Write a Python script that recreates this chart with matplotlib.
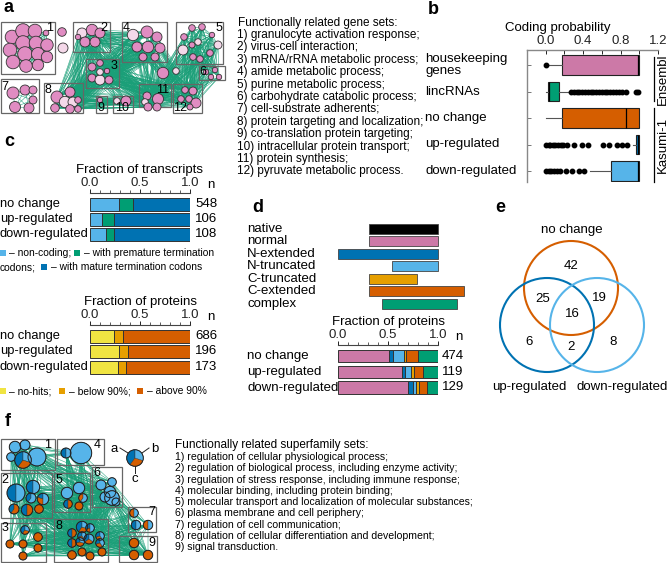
import matplotlib
matplotlib.use("Agg")
import matplotlib.pyplot as plt
import numpy as np
from matplotlib.patches import Rectangle, Circle, Wedge
from matplotlib.collections import LineCollection

plt.rcParams['font.family'] = ['Liberation Sans', 'DejaVu Sans']

W, H = 668, 563
PINK = '#CC79A7'
GREEN = '#009E73'
ORANGE = '#D55E00'
DBLUE = '#0072B2'
LBLUE = '#56B4E9'
YELLOW = '#F0E442'
AMBER = '#E69F00'
EDGE_GREEN = '#1A9F78'

# ---------------- data ----------------
# panel a: gene-set network (cluster, x, y, radius, pale)
a_nodes = [
    (1, 12, 37, 6.8, 0), (1, 23, 31, 7.3, 0), (1, 35, 31, 6.8, 0), (1, 10, 50, 6.8, 0),
    (1, 23, 43, 7.3, 0), (1, 36, 43, 6.8, 0), (1, 47, 45, 6.2, 0), (1, 13, 62, 6.8, 0),
    (1, 25, 54, 7.3, 0), (1, 38, 54, 6.5, 0), (1, 47, 57, 5.7, 0), (1, 26, 66, 6.3, 0),
    (1, 38, 65, 5.7, 0), (1, 46, 33, 2.8, 0),
    (0, 62, 32, 4.3, 0), (0, 63, 48, 5, 1),
    (2, 82, 33, 5, 1), (2, 92, 30, 5.7, 0), (2, 100, 33, 5, 0), (2, 85, 42, 5, 0),
    (2, 95, 42, 5, 0), (2, 78, 37, 2.7, 0),
    (3, 92, 67, 4, 0), (3, 100, 63, 3.3, 0), (3, 107, 71, 2.7, 0), (3, 92, 78, 4, 0),
    (3, 100, 80, 5, 1), (3, 109, 80, 4, 0), (3, 100, 72, 3.3, 1),
    (4, 133, 35, 5.7, 1), (4, 147, 32, 6, 0), (4, 157, 37, 5, 0), (4, 137, 47, 5, 0),
    (4, 148, 47, 5.7, 0), (4, 160, 48, 5, 0), (4, 143, 57, 4, 0), (4, 155, 57, 4, 0),
    (5, 192, 28, 3.3, 0), (5, 202, 27, 3.3, 0), (5, 212, 35, 2.7, 0), (5, 184, 37, 3.3, 0),
    (5, 198, 42, 3.3, 1), (5, 218, 45, 4, 1), (5, 183, 50, 5, 1), (5, 193, 57, 3.3, 0),
    (5, 200, 59, 3.3, 0), (5, 210, 53, 3.3, 0), (5, 192, 45, 3, 0),
    (6, 206, 72, 2.7, 0), (6, 215, 70, 2.7, 0), (6, 211, 77, 2.7, 0), (6, 219, 77, 2.7, 0),
    (0, 163, 73, 5.7, 0), (0, 176, 71, 3.3, 1),
    (7, 13, 93, 6, 0), (7, 25, 90, 5, 0), (7, 33, 100, 4, 0), (7, 15, 107, 5.5, 0),
    (7, 29, 108, 5, 0), (7, 33, 90, 4, 0),
    (8, 57, 97, 6, 0), (8, 70, 92, 5, 0), (8, 65, 102, 5.7, 1), (8, 73, 102, 5, 1),
    (8, 55, 108, 4.3, 0), (8, 70, 109, 4.3, 0), (8, 78, 109, 3.3, 0), (8, 78, 100, 3.3, 0),
    (9, 100, 100, 2.7, 0),
    (10, 117, 101, 3.3, 1), (10, 126, 101, 5, 0),
    (11, 147, 96, 4, 0), (11, 158, 99, 5.5, 0), (11, 145, 102, 3.3, 1), (11, 157, 107, 4, 0),
    (11, 148, 107, 4, 0),
    (12, 185, 90, 3.3, 0), (12, 193, 91, 4, 0), (12, 181, 99, 3.3, 0), (12, 189, 99, 3.3, 0),
    (12, 196, 103, 5, 0), (12, 190, 107, 3, 0),
]
a_boxes = [(1, 1, 22, 55, 74), (2, 73, 22, 110, 52), (3, 86, 59, 119, 88), (4, 122, 22, 167, 62),
           (5, 176, 22, 223, 64), (6, 199, 66, 225, 80), (7, 1, 79, 39, 113), (8, 44, 83, 83, 113),
           (9, 96, 96, 107, 113), (10, 113, 96, 133, 113), (11, 139, 84, 171, 107),
           (12, 173, 84, 202, 113)]
a_box_labels = [(1, 50, 28), (2, 104, 28), (3, 114, 66), (4, 126, 28), (5, 219, 28), (6, 203, 72),
                (7, 5, 87), (8, 48, 90), (9, 101, 108), (10, 122, 108), (11, 163, 90), (12, 180, 108)]
a_links = [(2, 3), (2, 4), (3, 4), (3, 8), (3, 11), (4, 11), (4, 12), (8, 11), (3, 12), (5, 12),
           (5, 6), (6, 12), (2, 8), (3, 10), (8, 10), (4, 8), (2, 11), (10, 11), (5, 5), (1, 1),
           (7, 7), (12, 12), (3, 3), (8, 8), (11, 12), (5, 11)]
gene_sets = ["granulocyte activation response;", "virus-cell interaction;",
             "mRNA/rRNA metabolic process;", "amide metabolic process;",
             "purine metabolic process;", "carbohydrate catabolic process;",
             "cell-substrate adherents;", "protein targeting and localization;",
             "co-translation protein targeting;", "intracellular protein transport;",
             "protein synthesis;", "pyruvate metabolic process."]

# panel b: coding probability box statistics
b_groups = ["housekeeping\ngenes", "lincRNAs", "no change", "up-regulated", "down-regulated"]
b_q1 = [0.17, 0.02, 0.17, 0.96, 0.70]
b_med = [0.985, 0.04, 0.86, 0.985, 0.985]
b_q3 = [1.0, 0.14, 1.0, 1.0, 1.0]
b_whislo = [0.0, 0.0, 0.0, 0.93, 0.47]
b_whishi = [1.0, 0.26, 1.0, 1.0, 1.0]
b_fliers = [
    [0.0],
    [0.27, 0.30, 0.33, 0.36, 0.39, 0.42, 0.45, 0.48, 0.51, 0.54, 0.57, 0.60, 0.63,
     0.66, 0.69, 0.72, 0.75, 0.78, 0.81, 0.86, 0.96, 0.99],
    [],
    [0.0, 0.03, 0.05, 0.08, 0.10, 0.13, 0.16, 0.19, 0.23, 0.30, 0.39, 0.45, 0.61,
     0.68, 0.76, 0.82, 0.87],
    [0.0, 0.03, 0.06, 0.09, 0.12, 0.15, 0.22, 0.28, 0.36, 0.41],
]
b_colors = [PINK, GREEN, ORANGE, DBLUE, LBLUE]

# panel c
groups3 = ["no change", "up-regulated", "down-regulated"]
tx_noncoding = np.array([0.293, 0.12, 0.16])
tx_premature = np.array([0.134, 0.123, 0.083])
tx_mature = np.array([0.573, 0.757, 0.757])
tx_n = [548, 106, 108]
pr_nohits = np.array([0.243, 0.293, 0.283])
pr_below90 = np.array([0.09, 0.09, 0.077])
pr_above90 = np.array([0.667, 0.617, 0.64])
pr_n = [686, 196, 173]

# panel d
d_types = ["native", "normal", "N-extended", "N-truncated", "C-truncated", "C-extended", "complex"]
d_start = [0.31, 0.31, 0.0, 0.54, 0.31, 0.31, 0.44]
d_end = [1.0, 1.0, 1.0, 1.0, 0.79, 1.26, 1.19]
d_colors = ['black', PINK, DBLUE, LBLUE, AMBER, ORANGE, GREEN]
d_normal = np.array([0.513, 0.64, 0.697])
d_next = np.array([0.037, 0.033, 0.05])
d_ntrunc = np.array([0.107, 0.054, 0.033])
d_ctrunc = np.array([0.026, 0.03, 0.027])
d_cext = np.array([0.114, 0.093, 0.083])
d_complex = np.array([0.203, 0.15, 0.11])
d_n = [474, 119, 129]

# panel e: Venn counts
venn_sets = ["no change", "up-regulated", "down-regulated"]
venn_counts = {"nc": 42, "nc_up": 25, "nc_down": 19, "all": 16, "up": 6, "up_down": 2, "down": 8}

# panel f: superfamily network (cluster, x, y, radius, a, b, c)
f_nodes = [
    (1, 15, 447, 5.7, 0, 1, 0), (1, 25, 445, 5, 0, 1, 0), (1, 11, 457, 4.3, 0, 1, 0),
    (1, 37, 457, 9, 0, 1, 0), (1, 23, 460, 8.3, 0.4, 0.3, 0.3),
    (4, 66, 453, 5, 0.5, 0.5, 0), (4, 81, 453, 10.7, 0, 1, 0),
    (2, 16, 493, 9, 0.5, 0.5, 0), (2, 33, 487, 6.7, 0.5, 0.5, 0), (2, 31, 498, 5, 0.4, 0.6, 0),
    (2, 43, 499, 5.7, 0.2, 0.5, 0.3), (2, 14, 509, 5, 0.4, 0, 0.6), (2, 27, 510, 5.7, 0.5, 0, 0.5),
    (2, 39, 509, 4.3, 0, 0, 1),
    (5, 79, 488, 5.7, 0, 1, 0), (5, 67, 493, 5.7, 0, 1, 0), (5, 83, 498, 4.3, 0, 0.6, 0.4),
    (5, 68, 504, 4.3, 0.5, 0, 0.5), (5, 79, 506, 4, 0, 0, 1),
    (6, 101, 485, 5, 0, 1, 0), (6, 112, 482, 4.3, 0, 1, 0), (6, 110, 492, 5.7, 0, 1, 0),
    (6, 105, 497, 5, 0, 1, 0), (6, 112, 498, 7.3, 0, 1, 0), (6, 116, 502, 4, 0, 1, 0),
    (7, 134, 513, 4.3, 0, 0.5, 0.5), (7, 136, 525, 4.7, 0.5, 0.5, 0), (7, 148, 525, 4.7, 0, 0.5, 0.5),
    (3, 25, 530, 4.3, 0.4, 0.3, 0.3), (3, 38, 537, 4.3, 0, 0, 1), (3, 10, 544, 4, 0, 0, 1),
    (3, 23, 544, 4, 0, 0, 1), (3, 38, 548, 4, 0, 0, 1), (3, 23, 556, 4, 0, 0, 1),
    (8, 82, 527, 5.7, 0.4, 0.3, 0.3), (8, 90, 528, 4.3, 0.3, 0.5, 0.2), (8, 72, 533, 4.3, 0.5, 0, 0.5),
    (8, 82, 536, 4.3, 0.3, 0.4, 0.3), (8, 100, 536, 4.3, 0.3, 0.4, 0.3), (8, 72, 543, 4.3, 0.5, 0, 0.5),
    (8, 80, 542, 4.3, 0.3, 0.3, 0.4), (8, 89, 539, 5, 0.35, 0.35, 0.3), (8, 100, 543, 4.3, 0.3, 0.4, 0.3),
    (8, 72, 555, 4.3, 0, 0, 1), (8, 82, 552, 4, 0, 0, 1), (8, 90, 556, 4, 0, 0, 1), (8, 102, 552, 4, 0, 0, 1),
    (9, 134, 543, 4.7, 0, 0, 1), (9, 134, 555, 4.7, 0, 0, 1), (9, 148, 555, 4.7, 0, 0, 1),
]
f_boxes = [(1, 1, 439, 55, 470), (4, 57, 439, 104, 465), (2, 1, 473, 52, 518), (5, 54, 473, 90, 512),
           (6, 92, 467, 122, 507), (7, 128, 507, 156, 532), (3, 1, 523, 46, 562), (8, 54, 519, 108, 562),
           (9, 119, 536, 157, 562)]
f_box_labels = [(1, 48, 445), (4, 97, 445), (2, 5, 480), (5, 59, 480), (6, 97, 473), (7, 152, 512),
                (3, 5, 528), (8, 59, 526), (9, 152, 543)]
f_links = [(1, 2), (1, 4), (1, 5), (1, 6), (2, 5), (2, 3), (2, 8), (2, 6), (4, 5), (4, 6), (5, 6),
           (5, 8), (6, 7), (6, 9), (7, 9), (8, 9), (3, 8), (5, 9), (2, 9), (1, 3), (3, 9), (8, 7),
           (4, 8), (6, 8)]
superfamily_sets = ["regulation of cellular physiological process;",
                    "regulation of biological process, including enzyme activity;",
                    "regulation of stress response, including immune response;",
                    "molecular binding, including protein binding;",
                    "molecular transport and localization of molecular substances;",
                    "plasma membrane and cell periphery;",
                    "regulation of cell communication;",
                    "regulation of cellular differentiation and development;",
                    "signal transduction."]

# ---------------- figure ----------------
fig = plt.figure(figsize=(W / 100, H / 100), dpi=100)
canvas = fig.add_axes([0, 0, 1, 1])
canvas.set_xlim(0, W)
canvas.set_ylim(H, 0)
canvas.axis('off')


def px_axes(x0, y0, x1, y1):
    ax = fig.add_axes([x0 / W, 1 - y1 / H, (x1 - x0) / W, (y1 - y0) / H])
    ax.set_facecolor('none')
    return ax


def txt(x, y, s, size=9, ha='left', **kw):
    canvas.text(x, y, s, fontsize=size, ha=ha, va='center', **kw)


def draw_network(nodes, boxes, box_labels, links, pie):
    by_cluster = {}
    for nd in nodes:
        by_cluster.setdefault(nd[0], []).append(nd)
    segs = []
    for c1, c2 in links:
        n1, n2 = by_cluster.get(c1, []), by_cluster.get(c2, [])
        for i, p in enumerate(n1):
            for j, q in enumerate(n2):
                if c1 == c2 and j <= i:
                    continue
                segs.append([(p[1], p[2]), (q[1], q[2])])
    canvas.add_collection(LineCollection(segs, colors=EDGE_GREEN, linewidths=0.35, zorder=1))
    for _, x0, y0, x1, y1 in boxes:
        canvas.add_patch(Rectangle((x0, y0), x1 - x0, y1 - y0, fill=False, edgecolor='#666',
                                   linewidth=0.9, zorder=2))
    for lab, x, y in box_labels:
        txt(x, y, str(lab), size=9, ha='center', zorder=5)
    for nd in nodes:
        x, y, r = nd[1], nd[2], nd[3]
        if pie:
            draw_pie(x, y, r, nd[4], nd[5], nd[6])
        else:
            canvas.add_patch(Circle((x, y), r, facecolor='#F4D8E9' if nd[4] else '#E08CC2',
                                    edgecolor='#333', linewidth=0.6, zorder=3))


def draw_pie(x, y, r, fa, fb, fc, z=3):
    # screen angles, counter-clockwise from top: a, c, b
    start = 90.0
    for frac, col in ((fa, DBLUE), (fc, ORANGE), (fb, LBLUE)):
        if frac <= 0:
            continue
        end = start + 360 * frac
        canvas.add_patch(Wedge((x, y), r, -end, -start, facecolor=col, edgecolor='#333',
                               linewidth=0.3, zorder=z))
        start = end
    canvas.add_patch(Circle((x, y), r, fill=False, edgecolor='#222', linewidth=0.7, zorder=z + 0.5))


# panel letters
for lab, x, y in [('a', 4, 8), ('b', 428, 10), ('c', 4, 141), ('d', 252, 208), ('e', 495, 208), ('f', 5, 421)]:
    txt(x, y, lab, size=13, weight='bold')

# ---- panel a ----
draw_network(a_nodes, a_boxes, a_box_labels, a_links, pie=False)
txt(238, 23, "Functionally related gene sets:", size=8.5)
for i, s in enumerate(gene_sets):
    txt(237, 35 + 12.4 * i, f"{i + 1}) {s}", size=8.5)

# ---- panel b ----
axb = px_axes(527, 50, 658, 182)
stats = []
for i in range(len(b_groups)):
    stats.append(dict(q1=b_q1[i], med=b_med[i], q3=b_q3[i], whislo=b_whislo[i],
                      whishi=b_whishi[i], fliers=b_fliers[i]))
bp = axb.bxp(stats, positions=range(len(b_groups)), widths=0.75, orientation='horizontal',
             patch_artist=True, showcaps=False,
             medianprops=dict(color='black', linewidth=0.9),
             whiskerprops=dict(color='#555', linewidth=0.8),
             boxprops=dict(edgecolor='#222', linewidth=0.8),
             flierprops=dict(marker='o', markerfacecolor='black', markeredgecolor='black',
                             markersize=3.2))
for patch, col in zip(bp['boxes'], b_colors):
    patch.set_facecolor(col)
axb.set_xlim(-0.2, 1.2)
axb.set_ylim(4.415, -0.566)
axb.xaxis.tick_top()
axb.set_xticks([0, 0.4, 0.8, 1.2])
axb.set_xticklabels(['0.0', '0.4', '0.8', '1.2'])
axb.set_xticks([0.2, 0.6, 1.0], minor=True)
axb.set_yticks(range(len(b_groups)))
axb.set_yticklabels([])
axb.tick_params(axis='x', which='both', direction='in', length=3, width=0.7, pad=2,
                labelsize=9.5, colors='#222')
axb.tick_params(axis='y', direction='in', length=3, width=0.7, color='#777')
for sp in ['bottom', 'right']:
    axb.spines[sp].set_visible(False)
for sp in ['top', 'left']:
    axb.spines[sp].set_color('#888')
    axb.spines[sp].set_linewidth(1.0)
txt(558, 28, "Coding probability", size=9.5, ha='center')
b_rows_px = [65, 92, 118, 144, 171]
for lab, y in zip(b_groups, b_rows_px):
    canvas.text(425, y, lab, fontsize=9.5, ha='left', va='center', linespacing=1.0)
canvas.plot([654, 654], [57, 101], color='black', lw=0.9)
canvas.plot([654, 654], [108, 182], color='black', lw=0.9)
txt(663, 79, "Ensembl", size=9.5, ha='center', rotation=90)
txt(663, 145, "Kasumi-1", size=9.5, ha='center', rotation=90)


# ---- ruler stacked bars ----
def ruler_bars(x0, x1, ruler_y, rows_y, bar_h, parts, colors, ns, n_x, n_head_x, title, title_y,
               labels, label_x, lab_size):
    bottom = rows_y[-1] + bar_h / 2 + 1.5
    ax = px_axes(x0, ruler_y, x1, bottom)
    left = np.zeros(len(rows_y))
    for vals, col in zip(parts, colors):
        ax.barh(rows_y, vals, left=left, height=bar_h, color=col, edgecolor='#333', linewidth=0.7)
        left = left + vals
    ax.set_xlim(0, 1)
    ax.set_ylim(bottom, ruler_y)
    for sp in ['bottom', 'left', 'right']:
        ax.spines[sp].set_visible(False)
    ax.spines['top'].set_color('#444')
    ax.spines['top'].set_linewidth(0.8)
    ax.xaxis.tick_top()
    ax.set_xticks([0, 0.5, 1.0])
    ax.set_xticklabels(['0.0', '0.5', '1.0'])
    ax.set_xticks(np.linspace(0, 1, 11), minor=True)
    ax.tick_params(axis='x', which='major', direction='out', length=3, width=0.7, pad=0,
                   labelsize=9.5, colors='#222')
    ax.tick_params(axis='x', which='minor', direction='out', length=2, width=0.6, colors='#444')
    ax.set_yticks([])
    txt(n_head_x, ruler_y - 8.5, "n", size=9.5, ha='center')
    txt((x0 + x1) / 2, title_y, title, size=9.5, ha='center')
    for y, n in zip(rows_y, ns):
        txt(n_x, y, str(n), size=9.5)
    for y, lab in zip(rows_y, labels):
        txt(label_x, y, lab, size=lab_size)


def legend_line(y, items, size=7.4):
    # items: (x, colour) for squares or (x, text) for text
    for x, val in items:
        if val.startswith('#'):
            canvas.add_patch(Rectangle((x, y - 3), 6, 6, facecolor=val, edgecolor='none'))
        else:
            txt(x, y, val, size=size)


# ---- panel c ----
ruler_bars(90, 190, 193, [204, 219, 234], 13, [tx_noncoding, tx_premature, tx_mature],
           [LBLUE, GREEN, DBLUE], tx_n, 195, 211, "Fraction of transcripts", 170, groups3, 0, 9.3)
legend_line(253, [(0, LBLUE), (9, "– non-coding;"), (74, GREEN), (84, "– with premature termination")])
legend_line(267, [(0, "codons;"), (41, DBLUE), (51, "– with mature termination codons")])

ruler_bars(90, 190, 325, [336, 351, 367], 13, [pr_nohits, pr_below90, pr_above90],
           [YELLOW, AMBER, ORANGE], pr_n, 195, 211, "Fraction of proteins", 302, groups3, 0, 9.3)
legend_line(391, [(0, YELLOW), (9, "– no-hits;"), (59, AMBER), (69, "– below 90%;"),
                  (137, ORANGE), (147, "– above 90%")])

# ---- panel d ----
axd = px_axes(338, 222, 468, 310)
d_rows = np.arange(len(d_types))
axd.barh(d_rows, np.array(d_end) - np.array(d_start), left=d_start, height=0.8,
         color=d_colors, edgecolor='#444', linewidth=0.6)
axd.set_xlim(0, 1.3)
axd.set_ylim(6 + 0.52, -0.56)
axd.axis('off')
for i, lab in enumerate(d_types):
    txt(247, 229 + 12.45 * i, lab, size=9.5)

ruler_bars(338, 438, 345, [356, 372, 387.5], 12.5,
           [d_normal, d_next, d_ntrunc, d_ctrunc, d_cext, d_complex],
           [PINK, DBLUE, LBLUE, AMBER, ORANGE, GREEN], d_n, 442, 459, "Fraction of proteins", 322,
           groups3, 247, 9.5)

# ---- panel e ----
venn_geom = [(571, 288, ORANGE), (547, 325, DBLUE), (597, 325, LBLUE)]
for x, y, col in venn_geom:
    canvas.add_patch(Circle((x, y), 47, fill=False, edgecolor=col, linewidth=1.5))
venn_pos = {"nc": (571, 266), "nc_up": (543, 299), "nc_down": (599, 298), "all": (572, 314),
            "up": (529, 342), "up_down": (571, 347), "down": (613, 342)}
for key, val in venn_counts.items():
    txt(venn_pos[key][0], venn_pos[key][1], str(val), size=9.5, ha='center')
txt(572, 230, venn_sets[0], size=9.5, ha='center')
txt(529, 387, venn_sets[1], size=9.5, ha='center')
txt(622, 387, venn_sets[2], size=9.5, ha='center')

# ---- panel f ----
draw_network(f_nodes, f_boxes, f_box_labels, f_links, pie=True)
draw_pie(135, 458, 8.3, 0.4, 0.3, 0.3)
canvas.plot([128, 120], [453, 448], color='#222', lw=0.7)
canvas.plot([142, 149], [453, 448], color='#222', lw=0.7)
canvas.plot([135, 135], [466, 473], color='#222', lw=0.7)
txt(114, 449, "a", size=9.5, ha='center')
txt(155, 449, "b", size=9.5, ha='center')
txt(135, 479, "c", size=9.5, ha='center')
txt(175, 445, "Functionally related superfamily sets:", size=8.5)
for i, s in enumerate(superfamily_sets):
    txt(175, 457 + 11.3 * i, f"{i + 1}) {s}", size=7.6)

fig.savefig("out.png", dpi=100)
